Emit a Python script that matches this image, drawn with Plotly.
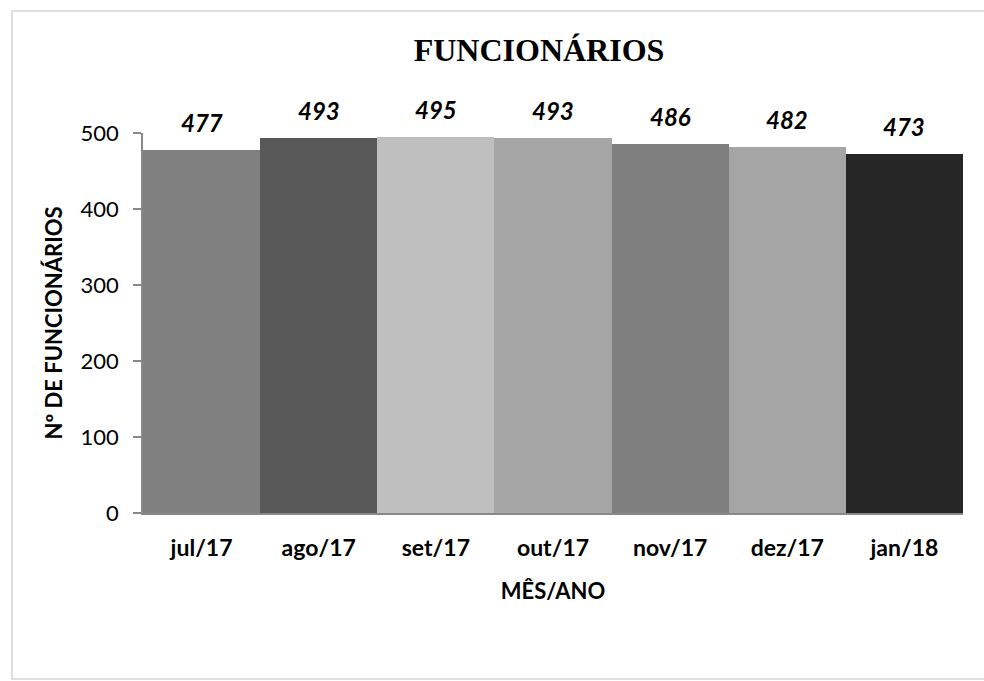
import plotly.graph_objects as go

months = ["jul/17", "ago/17", "set/17", "out/17", "nov/17", "dez/17", "jan/18"]
employees = [477, 493, 495, 493, 486, 482, 473]
bar_colors = ["#808080", "#595959", "#bfbfbf", "#a6a6a6", "#7f7f7f", "#a5a5a5", "#262626"]
y_ticks = [0, 100, 200, 300, 400, 500]

W, H = 984, 681
L, R, T, B = 143, 21, 133, 168
pw, ph = W - L - R, H - T - B

def px_x(x):
    return (x - L) / pw

def px_y(y):
    return (H - B - y) / ph

fig = go.Figure()
fig.add_trace(go.Bar(
    x=months, y=employees,
    marker=dict(color=bar_colors, line=dict(width=0)),
    width=1.0,
    hoverinfo="x+y",
))

for m, v in zip(months, employees):
    fig.add_annotation(x=m, y=v, text=str(v), showarrow=False,
                       xanchor="center", yanchor="bottom", yshift=11,
                       font=dict(family="Lato", size=24, color="#000000",
                                 weight="bold", style="italic"))

fig.update_layout(
    width=W, height=H,
    margin=dict(l=L, r=R, t=T, b=B),
    paper_bgcolor="white", plot_bgcolor="white",
    showlegend=False,
    bargap=0,
    title=dict(text="<b>FUNCIONÁRIOS</b>", x=539 / W, xanchor="center",
               y=1 - 50 / H, yanchor="middle",
               font=dict(family="Liberation Serif", size=32, color="#000000")),
    font=dict(family="Lato", color="#000000"),
)

fig.update_xaxes(
    showline=True, linecolor="#898989", linewidth=1.5,
    ticks="", showgrid=False,
    tickfont=dict(family="Lato", size=23, color="#000000", weight="bold"),
    ticklabelstandoff=14,
    title=dict(text="<b>MÊS/ANO</b>", font=dict(family="Lato", size=22, color="#000000"), standoff=23),
)
fig.update_yaxes(
    range=[0, 500], tickvals=y_ticks,
    showline=True, linecolor="#898989", linewidth=1.5,
    ticks="outside", ticklen=8, tickcolor="#898989", tickwidth=1.5,
    showgrid=False, zeroline=False,
    tickfont=dict(family="Lato", size=22, color="#000000"),
    ticklabelstandoff=10,
    title=dict(text="<b>Nº DE FUNCIONÁRIOS</b>", font=dict(family="Lato", size=22, color="#000000"), standoff=12),
)

fig.add_shape(type="rect", xref="paper", yref="paper",
              x0=px_x(12), x1=px_x(995), y0=px_y(679), y1=px_y(11),
              line=dict(color="#d4d4d4", width=1.5), fillcolor="rgba(0,0,0,0)", layer="below")

fig.write_html("out.html", config={"displayModeBar": False},
               post_script="document.body.style.margin='0px';")
